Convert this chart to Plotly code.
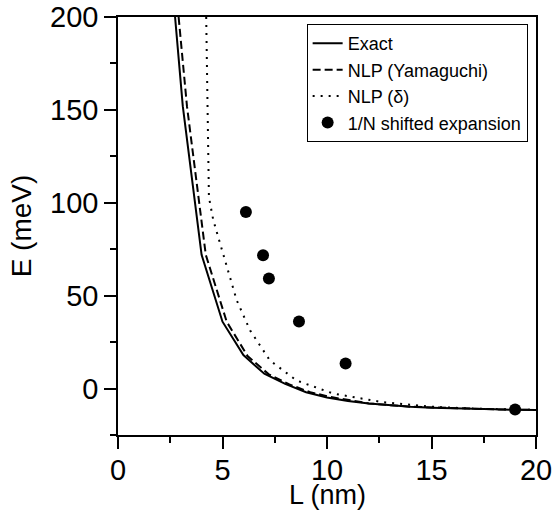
import plotly.graph_objects as go

# Exact
L_exact = [2.73, 3.1, 4.0, 5.0, 6.0, 7.0, 8.0, 9.0, 10.0, 11.0, 12.0, 13.0, 14.0, 15.0, 16.0, 17.0, 18.0, 19.0, 20.0]
E_exact = [200, 152, 72, 36, 18, 8, 2.5, -2, -4.8, -6.7, -8.0, -9.0, -9.8, -10.3, -10.7, -11.0, -11.2, -11.4, -11.5]

# NLP (Yamaguchi)
L_yama = [2.9, 3.3, 4.2, 5.2, 6.2, 7.2, 8.2, 9.2, 10.2, 12.0, 14.0, 16.0, 18.0, 20.0]
E_yama = [200, 152, 72, 36, 17.5, 7.8, 2.2, -2, -4.6, -8.0, -9.8, -10.7, -11.2, -11.5]

# NLP (delta)
L_delta = [4.22, 4.28, 4.35, 4.56, 5.12, 5.68, 6.32, 7.27, 8.55, 10.3, 12.7, 15.0, 17.0, 20.0]
E_delta = [200, 140, 103, 90.6, 69, 47.5, 31.3, 15.1, 4.3, -2.7, -7.4, -9.8, -10.8, -11.5]

# 1/N shifted expansion
L_1n = [6.12, 6.94, 7.22, 8.66, 10.89, 19.0]
E_1n = [95, 71.7, 59.3, 36.1, 13.5, -11.3]

x_ticks = [0, 5, 10, 15, 20]
y_ticks = [0, 50, 100, 150, 200]
x_title = "L (nm)"
y_title = "E (meV)"

fig = go.Figure()
fig.add_trace(go.Scatter(x=L_exact, y=E_exact, mode="lines", name="Exact",
                         line=dict(color="black", width=2)))
fig.add_trace(go.Scatter(x=L_yama, y=E_yama, mode="lines", name="NLP (Yamaguchi)",
                         line=dict(color="black", width=2, dash="8px,4px")))
fig.add_trace(go.Scatter(x=L_delta, y=E_delta, mode="lines", name="NLP (δ)",
                         line=dict(color="black", width=2, dash="2px,6px")))
fig.add_trace(go.Scatter(x=L_1n, y=E_1n, mode="markers", name="1/N shifted expansion",
                         marker=dict(color="black", size=12)))

axis_common = dict(showline=True, linecolor="black", linewidth=1.5, mirror=True,
                   ticks="outside", ticklen=12, tickwidth=1.5, tickcolor="black",
                   showgrid=False, zeroline=False, automargin=False,
                   ticklabeloverflow="allow",
                   tickfont=dict(size=29, color="black"))

fig.update_xaxes(range=[0, 20], tickvals=x_ticks, ticklabelstandoff=-4,
                 minor=dict(ticks="outside", ticklen=6, tickwidth=1.5, tickcolor="black", dtick=2.5, showgrid=False),
                 **axis_common)
fig.update_yaxes(range=[-25, 200], tickvals=y_ticks,
                 minor=dict(ticks="outside", ticklen=6, tickwidth=1.5, tickcolor="black", dtick=25, tick0=0, showgrid=False),
                 title=dict(text=y_title, font=dict(size=28, color="black"), standoff=10),
                 **axis_common)

# x-axis title as a paper annotation placed just below the tick labels
fig.add_annotation(text=x_title, xref="paper", yref="paper", x=0.5, y=0,
                   xanchor="center", yanchor="middle", yshift=-60, showarrow=False,
                   font=dict(size=27, color="black"))

fig.update_layout(
    width=556, height=512,
    margin=dict(l=118, r=20, t=17, b=77),
    paper_bgcolor="white", plot_bgcolor="white",
    font=dict(family="Liberation Sans, Arial, sans-serif", color="black"),
    legend=dict(x=0.98, y=0.983, xanchor="right", yanchor="top",
                bordercolor="black", borderwidth=1, bgcolor="white",
                font=dict(size=18), tracegroupgap=0, itemwidth=30),
    showlegend=True,
)

# remove the page's default body margin so the figure sits at the window's top-left corner
fig.write_html("out.html", config={"displayModeBar": False},
               post_script="document.body.style.margin='0';document.body.style.overflow='hidden';")
